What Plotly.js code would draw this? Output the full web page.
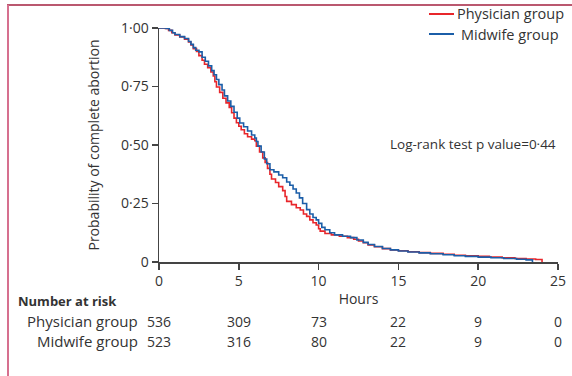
<!DOCTYPE html>
<html>
<head>
<meta charset="utf-8">
<script src="https://cdn.plot.ly/plotly-3.0.1.min.js"></script>
<style>
html,body{margin:0;padding:0;background:#fff;}
#chart{width:572px;height:376px;}
</style>
</head>
<body>
<div id="chart"></div>
<script>
// Kaplan-Meier style curves
const physicianTime = [0, 0.4, 0.6, 0.8, 1.0, 1.3, 1.6, 1.85, 2.0, 2.15, 2.35, 2.5, 2.7, 2.85, 3.05, 3.25, 3.4, 3.5, 3.6, 3.8, 4.0, 4.2, 4.4, 4.55, 4.7, 4.85, 5.0, 5.15, 5.35, 5.55, 5.8, 6.0, 6.1, 6.3, 6.5, 6.65, 6.8, 6.95, 7.05, 7.3, 7.5, 7.75, 7.9, 8.0, 8.3, 8.6, 8.85, 9.05, 9.25, 9.45, 9.65, 9.85, 10.0, 10.1, 10.4, 10.8, 11.3, 11.8, 12.2, 12.5, 12.8, 13.1, 13.5, 14.0, 14.5, 15.0, 15.6, 16.3, 17.0, 17.8, 18.5, 19.2, 20.0, 20.7, 21.5, 22.3, 23.0, 23.6, 24.0];
const physicianSurv = [1, 0.998, 0.99, 0.98, 0.97, 0.962, 0.952, 0.94, 0.928, 0.912, 0.9, 0.882, 0.862, 0.845, 0.83, 0.812, 0.795, 0.77, 0.748, 0.725, 0.7, 0.68, 0.66, 0.638, 0.615, 0.595, 0.58, 0.565, 0.548, 0.535, 0.525, 0.518, 0.495, 0.47, 0.445, 0.425, 0.4, 0.375, 0.355, 0.34, 0.322, 0.305, 0.28, 0.259, 0.245, 0.232, 0.222, 0.205, 0.195, 0.18, 0.168, 0.158, 0.142, 0.132, 0.122, 0.116, 0.11, 0.104, 0.097, 0.09, 0.082, 0.073, 0.065, 0.057, 0.052, 0.048, 0.044, 0.04, 0.037, 0.033, 0.029, 0.026, 0.024, 0.021, 0.018, 0.015, 0.013, 0.011, 0];
const midwifeTime = [0, 0.45, 0.65, 0.85, 1.0, 1.3, 1.6, 1.85, 2.0, 2.15, 2.3, 2.5, 2.7, 2.9, 3.1, 3.3, 3.45, 3.6, 3.75, 3.95, 4.1, 4.3, 4.5, 4.7, 4.9, 5.06, 5.3, 5.55, 5.8, 6.0, 6.1, 6.2, 6.4, 6.6, 6.75, 6.95, 7.2, 7.5, 7.75, 8.0, 8.2, 8.4, 8.6, 8.8, 9.0, 9.25, 9.45, 9.65, 9.85, 10.0, 10.2, 10.4, 10.7, 11.0, 11.5, 12.0, 12.4, 12.8, 13.1, 13.5, 14.0, 14.5, 15.0, 15.6, 16.3, 17.0, 17.8, 18.5, 19.2, 20.0, 20.8, 21.6, 22.4, 23.0, 23.4];
const midwifeSurv = [1, 0.998, 0.99, 0.98, 0.972, 0.963, 0.955, 0.942, 0.93, 0.916, 0.905, 0.898, 0.875, 0.858, 0.838, 0.818, 0.8, 0.78, 0.758, 0.735, 0.71, 0.688, 0.665, 0.64, 0.615, 0.594, 0.578, 0.56, 0.543, 0.53, 0.515, 0.495, 0.47, 0.44, 0.42, 0.394, 0.385, 0.372, 0.36, 0.342, 0.328, 0.312, 0.295, 0.274, 0.25, 0.224, 0.205, 0.19, 0.18, 0.165, 0.148, 0.138, 0.125, 0.116, 0.11, 0.104, 0.094, 0.084, 0.075, 0.066, 0.058, 0.052, 0.047, 0.043, 0.039, 0.035, 0.031, 0.027, 0.024, 0.021, 0.018, 0.015, 0.012, 0.009, 0];

const xTickVals = [0, 5, 10, 15, 20, 25];
const xTickText = ['0', '5', '10', '15', '20', '25'];
const yTickVals = [0, 0.25, 0.5, 0.75, 1];
const yTickText = ['0', '0·25', '0·50', '0·75', '1·00'];

const riskTimes = [0, 5, 10, 15, 20, 25];
const riskPhysician = [536, 309, 73, 22, 9, 0];
const riskMidwife = [523, 316, 80, 22, 9, 0];
const groupNames = ['Physician group', 'Midwife group'];
const groupColors = ['#e8262b', '#1b5ea8'];

const FONT = '"Open Sans", "Noto Sans", sans-serif';
const TXT = '#333333';
const W = 572, H = 376;
const M = {l: 159, r: 14, t: 28, b: 114};
const plotH = H - M.t - M.b;
const plotW = W - M.l - M.r;
const py = p => (H - M.b - p) / plotH;   // pixel y -> paper y
const px = p => (p - M.l) / plotW;       // pixel x -> paper x

const traces = [
  {x: physicianTime, y: physicianSurv, name: groupNames[0], type: 'scatter', mode: 'lines',
   line: {shape: 'hv', color: groupColors[0], width: 1.6}},
  {x: midwifeTime, y: midwifeSurv, name: groupNames[1], type: 'scatter', mode: 'lines',
   line: {shape: 'hv', color: groupColors[1], width: 1.6}}
];

const annotations = [];
const shapes = [
  {type: 'line', xref: 'paper', yref: 'paper', x0: px(7), x1: px(W + 5), y0: py(5), y1: py(5),
   line: {color: '#a3203f', width: 1.5}},
  {type: 'line', xref: 'paper', yref: 'paper', x0: px(8), x1: px(8), y0: py(5), y1: py(H + 5),
   line: {color: '#d6708f', width: 2}}
];

// legend (drawn by hand so it does not push the plot margins)
const legendRows = [14, 34];
groupNames.forEach((g, i) => {
  shapes.push({type: 'line', xref: 'paper', yref: 'paper', x0: px(429), x1: px(454),
    y0: py(legendRows[i]), y1: py(legendRows[i]), line: {color: groupColors[i], width: 2}});
  annotations.push({xref: 'paper', yref: 'paper', x: px(510), y: py(legendRows[i]), xanchor: 'center', yanchor: 'middle',
    text: g, showarrow: false, font: {family: FONT, size: 14.5, color: TXT}});
});

annotations.push({xref: 'x', yref: 'y', x: 25, y: 0.505, xanchor: 'right', yanchor: 'middle',
  text: 'Log-rank test p value=0·44', showarrow: false, font: {family: FONT, size: 13.5, color: TXT}});
annotations.push({xref: 'paper', yref: 'paper', x: px(16), y: py(301), xanchor: 'left', yanchor: 'middle',
  text: '<b>Number at risk</b>', showarrow: false, font: {family: FONT, size: 13, color: TXT}});
const rows = [[riskPhysician, 321], [riskMidwife, 341]];
rows.forEach((r, i) => {
  annotations.push({xref: 'paper', yref: 'paper', x: px(140), y: py(r[1]), xanchor: 'right', yanchor: 'middle',
    text: groupNames[i], showarrow: false, font: {family: FONT, size: 15, color: TXT}});
  riskTimes.forEach((t, j) => {
    annotations.push({xref: 'x', yref: 'paper', x: t, y: py(r[1]), xanchor: 'center', yanchor: 'middle',
      text: String(r[0][j]), showarrow: false, font: {family: FONT, size: 14, color: TXT}});
  });
});

const layout = {
  width: W, height: H,
  margin: M,
  paper_bgcolor: '#fff', plot_bgcolor: '#fff',
  font: {family: FONT, size: 14, color: TXT},
  showlegend: false,
  xaxis: {range: [0, 25], tickvals: xTickVals, ticktext: xTickText, showgrid: false, zeroline: false,
    showline: true, linecolor: '#444', linewidth: 1.5, ticks: 'outside', ticklen: 6, tickcolor: '#444', tickwidth: 1.5,
    tickfont: {family: FONT, size: 14, color: TXT},
    title: {text: 'Hours', font: {family: FONT, size: 14, color: TXT}, standoff: 5}},
  yaxis: {range: [0, 1], tickvals: yTickVals, ticktext: yTickText, showgrid: false, zeroline: false,
    showline: true, linecolor: '#444', linewidth: 1.5, ticks: 'outside', ticklen: 6, tickcolor: '#444', tickwidth: 1.5,
    tickfont: {family: FONT, size: 14, color: TXT},
    title: {text: 'Probability of complete abortion', font: {family: FONT, size: 14, color: TXT}, standoff: 18}},
  annotations: annotations,
  shapes: shapes
};

Plotly.newPlot('chart', traces, layout, {displayModeBar: false, staticPlot: true});
</script>
</body>
</html>
